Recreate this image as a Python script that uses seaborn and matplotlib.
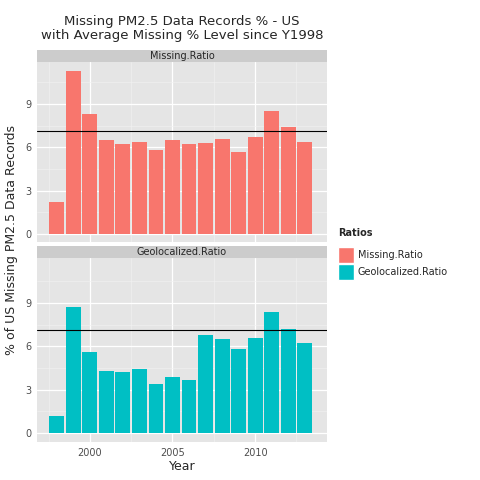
import matplotlib
matplotlib.use("Agg")
import matplotlib.pyplot as plt
import seaborn as sns
import pandas as pd

years = list(range(1998, 2014))
missing = [2.2, 11.3, 8.3, 6.5, 6.2, 6.4, 5.8, 6.5, 6.2, 6.3, 6.6, 5.7, 6.7, 8.5, 7.4, 6.4]
geoloc = [1.2, 8.7, 5.6, 4.3, 4.2, 4.4, 3.4, 3.9, 3.7, 6.8, 6.5, 5.8, 6.6, 8.4, 7.2, 6.2]
avg_missing = 7.15
avg_geoloc = 7.1
series = ["Missing.Ratio", "Geolocalized.Ratio"]
colors = ["#F8766D", "#00BFC4"]

sns.set_theme(style="darkgrid", rc={"axes.facecolor": "#E5E5E5", "grid.color": "white"})
plt.rcParams['font.family'] = ['DejaVu Sans']

fig = plt.figure(figsize=(4.8, 4.8), dpi=100)
W, H = 480, 480
x0, x1 = 37, 327
panels = [(62, 242, 50), (258, 442, 246)]
data = [missing, geoloc]
avgs = [avg_missing, avg_geoloc]
ylims = [(-0.55, 11.9), (-0.62, 12.1)]
for i, ((top, bot, st), vals, avg, col, name) in enumerate(zip(panels, data, avgs, colors, series)):
    ax = fig.add_axes([x0 / W, 1 - bot / H, (x1 - x0) / W, (bot - top) / H])
    df = pd.DataFrame({"Year": years, "v": vals})
    sns.barplot(data=df, x="Year", y="v", native_scale=True, color=col, width=0.9,
                saturation=1, ax=ax, edgecolor="none")
    ax.axhline(avg, color="black", lw=0.8)
    ax.set_xlim(1996.8, 2014.35)
    ax.set_ylim(*ylims[i])
    ax.set_yticks([0, 3, 6, 9])
    ax.set_xticks([2000, 2005, 2010])
    ax.set_xticks([1997.5, 2002.5, 2007.5, 2012.5], minor=True)
    ax.set_yticks([1.5, 4.5, 7.5, 10.5], minor=True)
    ax.grid(True, which="major", color="white", lw=0.9)
    ax.grid(True, which="minor", color="#F2F2F2", lw=0.4)
    ax.tick_params(labelsize=7, colors="#4D4D4D", length=2, pad=2, which="major")
    ax.tick_params(which="minor", length=0)
    ax.set_xlabel(""); ax.set_ylabel("")
    for s in ax.spines.values():
        s.set_visible(False)
    if i == 0:
        ax.set_xticklabels([])
    sax = fig.add_axes([x0 / W, 1 - top / H, (x1 - x0) / W, (top - st) / H])
    sax.set_facecolor("#CCCCCC")
    sax.set_xticks([]); sax.set_yticks([])
    for s in sax.spines.values():
        s.set_visible(False)
    sax.text(0.5, 0.5, name, ha="center", va="center", fontsize=7, transform=sax.transAxes)

fig.text((x0 + x1) / 2 / W, 1 - 466 / H, "Year", ha="center", va="center", fontsize=9)
fig.text(12 / W, 0.5, "% of US Missing PM2.5 Data Records", rotation=90, ha="center", va="center", fontsize=9)
fig.text((x0 + x1) / 2 / W, 1 - 15 / H, "Missing PM2.5 Data Records % - US\nwith Average Missing % Level since Y1998",
         ha="center", va="top", fontsize=9.5, linespacing=1.1)

fig.text(338 / W, 1 - 233 / H, "Ratios", fontsize=7, fontweight="bold", va="center")
for j, (name, col) in enumerate(zip(series, colors)):
    yc = 255 + j * 17
    fig.patches.append(plt.Rectangle((338 / W, 1 - (yc + 8) / H), 16 / W, 16 / H,
                                     transform=fig.transFigure, facecolor=col, edgecolor="white"))
    fig.text(358 / W, 1 - yc / H, name, fontsize=7, va="center")

fig.savefig("out.png", dpi=100)
